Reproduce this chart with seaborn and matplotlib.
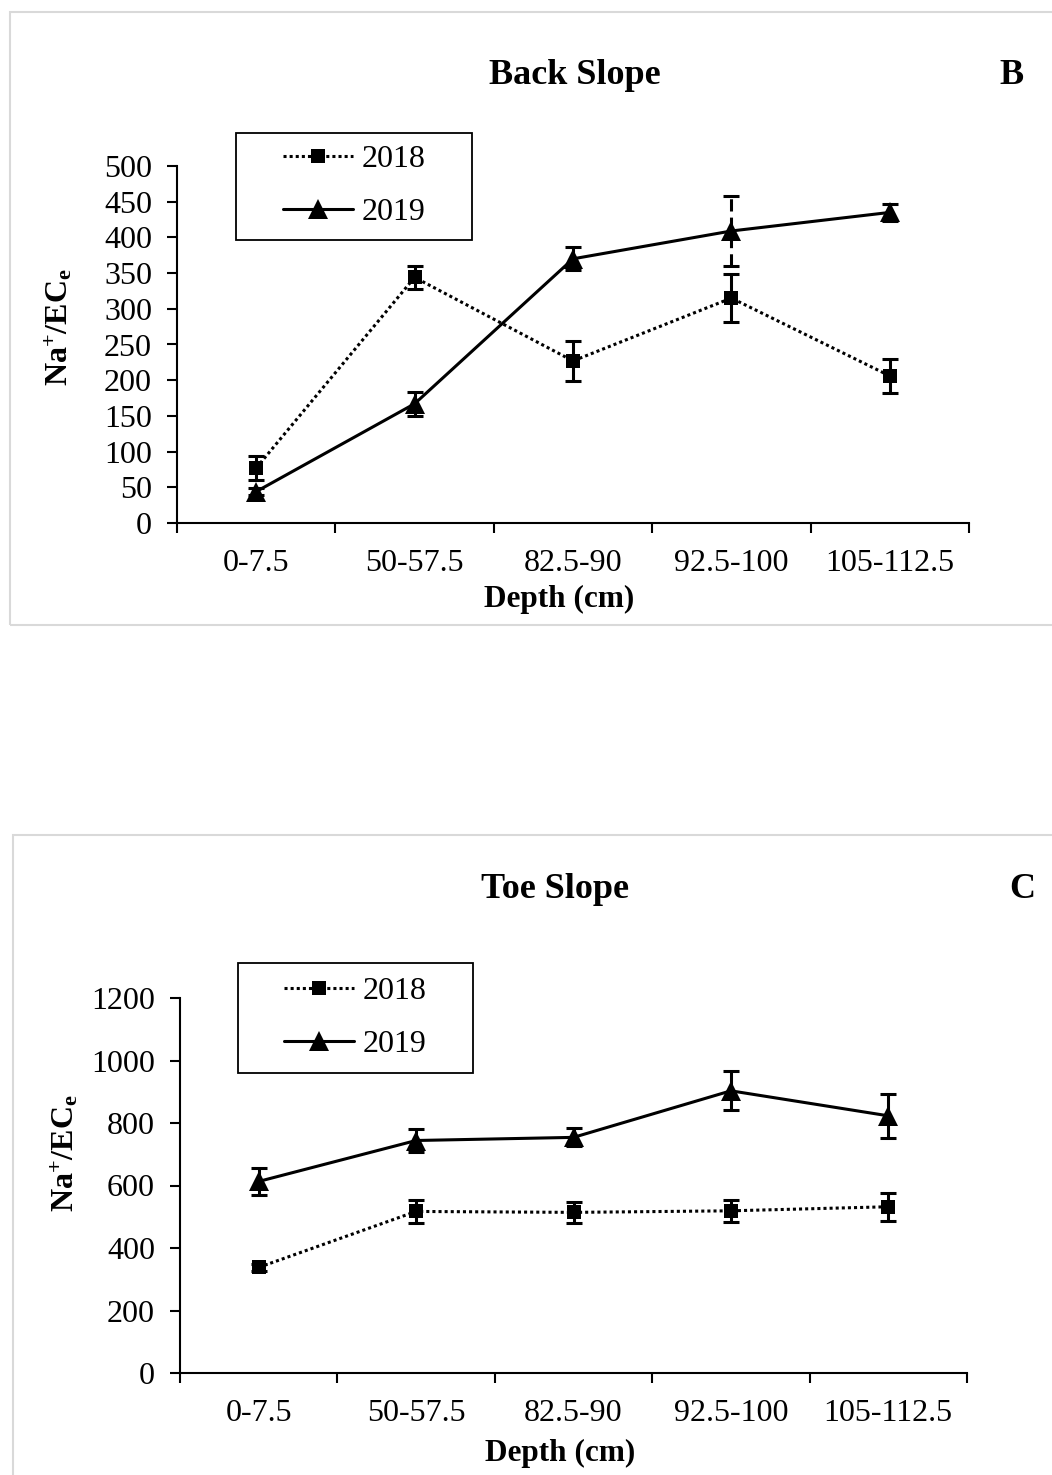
import numpy as np
import pandas as pd
import seaborn as sns
import matplotlib
matplotlib.use("Agg")
from matplotlib import pyplot as plt
from matplotlib.patches import Rectangle
from matplotlib.ticker import FixedLocator, MultipleLocator

# categories and series
depths = ["0-7.5", "50-57.5", "82.5-90", "92.5-100", "105-112.5"]
years = ["2018", "2019"]

back_2018 = [77, 344, 227, 315, 206]
back_2018_err = [17, 16, 28, 34, 24]
back_2019 = [44, 167, 370, 409, 435]
back_2019_err = [5, 17, 16, 49, 12]

toe_2018 = [338, 517, 514, 519, 532]
toe_2018_err = [12, 37, 34, 35, 44]
toe_2019 = [613, 744, 754, 903, 823]
toe_2019_err = [42, 37, 29, 62, 71]

sns.set_theme(style="ticks")
plt.rcParams["font.family"] = ["Liberation Serif", "DejaVu Serif"]
plt.rcParams["mathtext.fontset"] = "custom"
plt.rcParams["mathtext.rm"] = "Liberation Serif"
plt.rcParams["mathtext.bf"] = "Liberation Serif:bold"
plt.rcParams["mathtext.it"] = "Liberation Serif:italic"
for key in ["text.color", "axes.labelcolor", "xtick.color", "ytick.color",
            "axes.edgecolor"]:
    plt.rcParams[key] = "black"

W, H = 1052, 1475
fig = plt.figure(figsize=(W / 100, H / 100), dpi=100)


def fx(px):
    return px / W


def fy(py):
    return 1 - py / H


def draw_panel(ax, v18, e18, v19, e19, ymax, ystep, legend_xy, ylab_xy, dashed_err=None):
    df = pd.DataFrame({
        "Depth": depths * 2,
        "Year": np.repeat(years, len(depths)),
        "Value": v18 + v19,
    })
    sns.lineplot(data=df, x="Depth", y="Value", hue="Year", style="Year",
                 palette={"2018": "black", "2019": "black"},
                 markers={"2018": "s", "2019": "^"},
                 dashes={"2018": (1, 1), "2019": ""},
                 linewidth=2.2, markeredgewidth=0, sort=False, ax=ax)
    for line, ms in zip(ax.lines[:2], [10.5, 15]):
        line.set_markersize(ms)

    for vals, errs in [(v18, e18), (v19, e19)]:
        eb = ax.errorbar(depths, vals, yerr=errs, fmt="none", ecolor="black",
                         elinewidth=2.2, capsize=5.5, capthick=2.2, zorder=3)
        # one whisker is drawn dashed in the original
        if dashed_err is not None and vals is v19:
            styles = ["solid"] * len(depths)
            styles[dashed_err] = (0, (4, 2))
            eb[2][0].set_linestyles(styles)

    ax.set_xlim(-0.5, len(depths) - 0.5)
    ax.set_ylim(0, ymax)
    ax.yaxis.set_major_locator(MultipleLocator(ystep))
    ax.xaxis.set_minor_locator(FixedLocator(np.arange(len(depths) + 1) - 0.5))
    ax.tick_params(axis="x", which="major", length=0, pad=19, labelsize=23)
    ax.tick_params(axis="x", which="minor", length=7, width=1.5, direction="out")
    ax.tick_params(axis="y", length=7, width=1.5, pad=11, labelsize=23)
    for s in ["top", "right"]:
        ax.spines[s].set_visible(False)
    for s in ["left", "bottom"]:
        ax.spines[s].set_linewidth(1.5)

    ax.set_xlabel("Depth (cm)", fontsize=22.5, fontweight="bold")
    ax.xaxis.set_label_coords(0.483, -0.215)
    ax.xaxis.label.set_va("center")
    ax.set_ylabel(r"$\mathbf{Na^{+}/EC_{e}}$", fontsize=23)
    ax.yaxis.set_label_coords(*ylab_xy)
    ax.yaxis.label.set_va("center")

    sns.move_legend(ax, "center", bbox_to_anchor=legend_xy,
                    bbox_transform=fig.transFigure, frameon=False, title=None,
                    fontsize=23, handlelength=2.2, handletextpad=0.25,
                    labelspacing=0.75)
    for h, ms in zip(ax.get_legend().legend_handles, [10.5, 15]):
        h.set_markersize(ms)
        h.set_linewidth(2.2)


# panel B
axB = fig.add_axes([fx(177), fy(523), fx(969 - 177), (523 - 166) / H])
draw_panel(axB, back_2018, back_2018_err, back_2019, back_2019_err,
           500, 50, (fx(354), fy(186)), (-0.149, 0.55), dashed_err=3)
fig.patches.append(Rectangle((fx(236), fy(240)), fx(472 - 236), (240 - 133) / H,
                             transform=fig.transFigure, fill=False,
                             edgecolor="black", linewidth=1.3))
fig.text(fx(575), fy(76), "Back Slope", ha="center", va="center",
         fontsize=26, fontweight="bold")
fig.text(fx(1012), fy(76), "B", ha="center", va="center",
         fontsize=26, fontweight="bold")

# panel C
axC = fig.add_axes([fx(180), fy(1373), fx(967 - 180), (1373 - 998) / H])
draw_panel(axC, toe_2018, toe_2018_err, toe_2019, toe_2019_err,
           1200, 200, (fx(355), fy(1018)), (-0.147, 0.587))
fig.patches.append(Rectangle((fx(238), fy(1073)), fx(473 - 238), (1073 - 963) / H,
                             transform=fig.transFigure, fill=False,
                             edgecolor="black", linewidth=1.3))
fig.text(fx(555), fy(890), "Toe Slope", ha="center", va="center",
         fontsize=26, fontweight="bold")
fig.text(fx(1022), fy(890), "C", ha="center", va="center",
         fontsize=26, fontweight="bold")

# light grey panel frames
fig.patches.append(Rectangle((fx(10), fy(625)), fx(1060), (625 - 12) / H,
                             transform=fig.transFigure, fill=False,
                             edgecolor="#d9d9d9", linewidth=1.5))
fig.patches.append(Rectangle((fx(13), fy(1490)), fx(1060), (1490 - 835) / H,
                             transform=fig.transFigure, fill=False,
                             edgecolor="#d9d9d9", linewidth=1.5))

fig.savefig("out.png", dpi=100)
